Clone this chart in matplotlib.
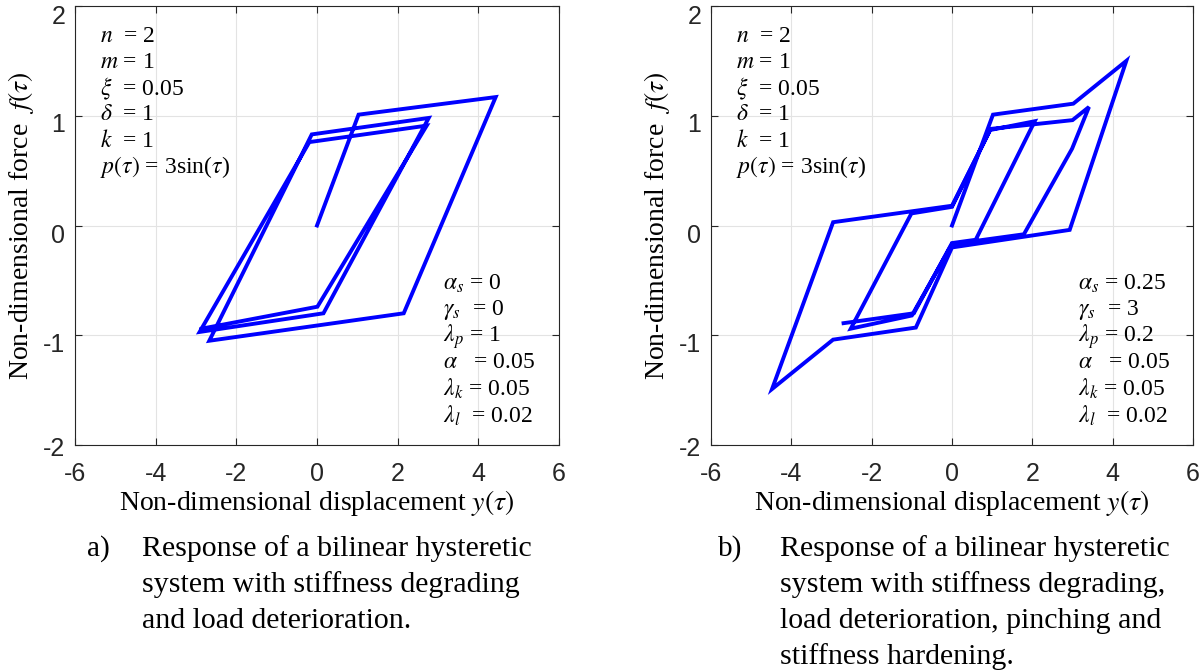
import matplotlib
matplotlib.use("Agg")
import matplotlib.pyplot as plt
from matplotlib.transforms import ScaledTranslation

plt.rcParams['mathtext.fontset'] = 'stix'
plt.rcParams['font.family'] = ['Liberation Serif', 'DejaVu Serif']

# ---------------- data ----------------
# a) bilinear system with stiffness degrading and load deterioration
disp_a = [0.0, 1.03, 4.43, 2.15, -2.67, -0.13, 2.77, 0.16, -2.91, -0.19, 2.72, 0.01, -2.86]
force_a = [0.0, 1.01, 1.17, -0.80, -1.05, 0.83, 0.98, -0.80, -0.97, 0.76, 0.91, -0.74, -0.94]

# b) with pinching and stiffness hardening
disp_b = [0.0, 1.02, 3.02, 4.34, 2.93, 0.0, -0.90, -2.96, -4.48,
          -2.96, 0.0, 0.96, 3.00, 3.41, 2.99, 1.79, 0.0, -1.00, -2.52,
          -1.01, 0.0, 0.95, 2.06, 0.59, 0.0, -0.95, -2.70]
force_b = [0.0, 1.01, 1.11, 1.50, -0.04, -0.20, -0.93, -1.04, -1.49,
           0.03, 0.18, 0.88, 0.96, 1.08, 0.70, -0.08, -0.17, -0.82, -0.94,
           0.11, 0.17, 0.87, 0.95, -0.13, -0.16, -0.80, -0.89]

xticks = [-6, -4, -2, 0, 2, 4, 6]
yticks = [-2, -1, 0, 1, 2]

params_top = [(r'$n$', '  = 2'), (r'$m$', ' = 1'), (r'$\xi$', '  = 0.05'), (r'$\delta$', '  = 1'),
              (r'$k$', '  = 1'), (r'$p(\tau)$', ' = 3sin($\\tau$)')]
params_a = [(r'$\alpha_s$', ' = 0'), (r'$\gamma_s$', '  = 0'), (r'$\lambda_p$', ' = 1'),
            (r'$\alpha$', '   = 0.05'), (r'$\lambda_k$', ' = 0.05'), (r'$\lambda_l$', '  = 0.02')]
params_b = [(r'$\alpha_s$', ' = 0.25'), (r'$\gamma_s$', '  = 3'), (r'$\lambda_p$', ' = 0.2'),
            (r'$\alpha$', '   = 0.05'), (r'$\lambda_k$', ' = 0.05'), (r'$\lambda_l$', '  = 0.02')]

caption_a = ['a)', ['Response of a bilinear hysteretic',
                    'system with stiffness degrading',
                    'and load deterioration.']]
caption_b = ['b)', ['Response of a bilinear hysteretic',
                    'system with stiffness degrading,',
                    'load deterioration, pinching and',
                    'stiffness hardening.']]

W, H = 1204, 671
fig = plt.figure(figsize=(W / 100, H / 100), dpi=100)

def px_axes(x0, y0, x1, y1):
    return [x0 / W, 1 - y1 / H, (x1 - x0) / W, (y1 - y0) / H]

ax_a = fig.add_axes(px_axes(75, 6, 559, 445))
ax_b = fig.add_axes(px_axes(711, 6, 1193, 445))

ylabel_shift_px = [2, 7, 8, 7, 9]   # downward shift of the y tick labels (-2 .. 2)

def style(ax):
    ax.set_xlim(-6, 6)
    ax.set_ylim(-2, 2)
    ax.set_xticks(xticks)
    ax.set_yticks(yticks)
    ax.set_xticklabels([str(t) for t in xticks], family='Liberation Sans', fontsize=18, color='#262626')
    ax.set_yticklabels([str(t) for t in yticks], family='Liberation Sans', fontsize=18, color='#262626')
    ax.tick_params(axis='both', direction='in', length=5, width=0.8, color='#262626',
                   top=True, right=True)
    ax.tick_params(axis='x', pad=12)
    ax.tick_params(axis='y', pad=7)
    for lbl, sh in zip(ax.get_yticklabels(), ylabel_shift_px):
        lbl.set_transform(lbl.get_transform() + ScaledTranslation(0, -sh / 100, fig.dpi_scale_trans))
    ax.grid(True, color='#e3e3e3', linewidth=0.8)
    ax.set_axisbelow(True)
    for s in ax.spines.values():
        s.set_color('#262626')
        s.set_linewidth(0.8)
    ax.set_xlabel(r'Non-dimensional displacement $\mathit{y}(\tau)$', fontsize=20, labelpad=2)
    ax.set_ylabel(r'Non-dimensional force  $\mathit{f}(\tau)$', fontsize=20, labelpad=5)

def param_block(ax, items, x, y0, dy):
    for i, (sym, rest) in enumerate(items):
        ax.text(x, y0 - i * dy, sym + rest, fontsize=17, va='center', ha='left')

for ax, xs, ys, low in [(ax_a, disp_a, force_a, params_a), (ax_b, disp_b, force_b, params_b)]:
    style(ax)
    ax.plot(xs, ys, color='#0000ff', linewidth=2.8, solid_joinstyle='miter')
    param_block(ax, params_top, -5.38, 1.72, 0.237)
    xl = 3.12 if ax is ax_a else 3.14
    param_block(ax, low, xl, -0.53, 0.24)

def caption(cap, xlab, xtxt):
    lab, lines = cap
    fig.text(xlab / W, 1 - 549 / H, lab, fontsize=21, va='center', ha='left')
    for i, ln in enumerate(lines):
        fig.text(xtxt / W, 1 - (549 + 36 * i) / H, ln, fontsize=21.5, va='center', ha='left')

caption(caption_a, 87, 142)
caption(caption_b, 718, 780)

fig.savefig('out.png', dpi=100)
